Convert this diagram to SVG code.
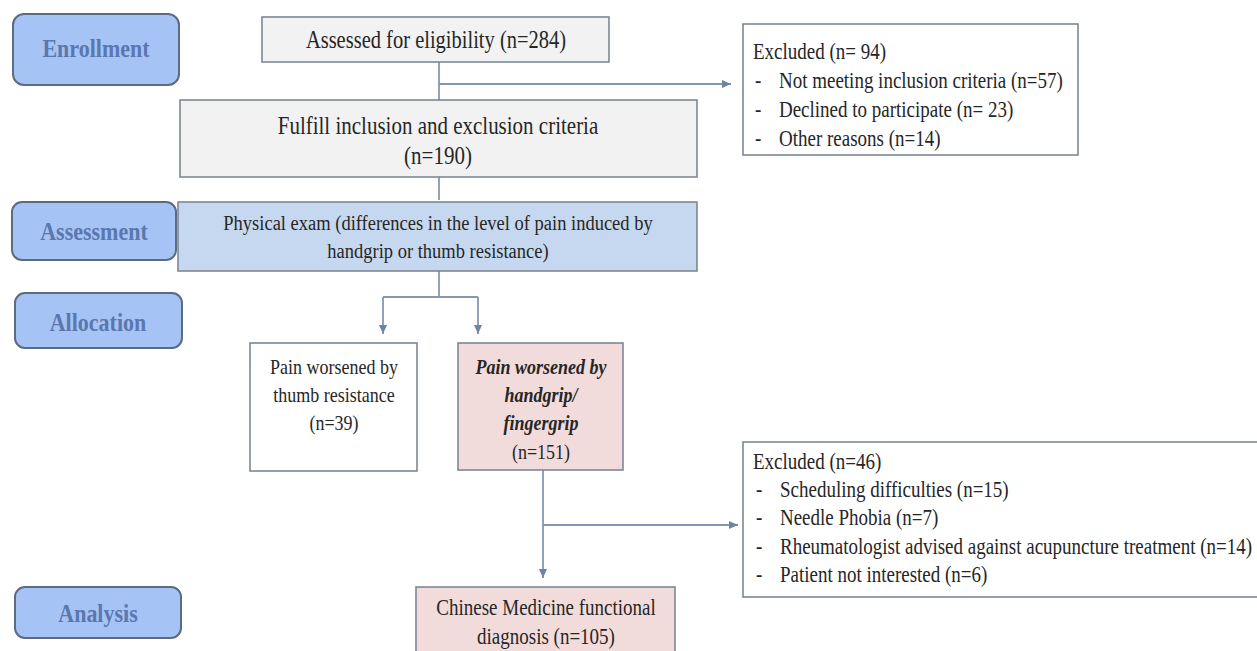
<svg xmlns="http://www.w3.org/2000/svg" width="1257" height="651" viewBox="0 0 1257 651">
<style>
.lbl rect{fill:#a6c3f6;stroke:#5d6b80;stroke-width:2}
.lbl text{font-family:"Liberation Serif",serif;font-weight:bold;font-size:22px;fill:#5a77ae;text-anchor:middle}
.box{stroke:#7d8794;stroke-width:1.6}
.t{font-family:"Liberation Serif",serif;font-size:19px;fill:#262626}
.t,.lbl text{transform-box:fill-box;transform-origin:50% 50%;transform:scaleY(1.18)}
.c{text-anchor:middle}
.conn line{stroke:#8597b0;stroke-width:1.8;fill:none}
</style>
<defs>
<marker id="ah" markerUnits="userSpaceOnUse" markerWidth="10" markerHeight="10" viewBox="0 0 10 10" refX="9" refY="5" orient="auto">
<path d="M0,1 L9,5 L0,9 Z" fill="#6f84a3"/>
</marker>
</defs>
<rect width="1257" height="651" fill="#ffffff"/>
<g class="conn" id="connectors">
<line x1="439" y1="62" x2="439" y2="200"/>
<line x1="439" y1="84" x2="731" y2="84" marker-end="url(#ah)"/>
<line x1="439" y1="271" x2="439" y2="297"/>
<line x1="383" y1="297" x2="478" y2="297"/>
<line x1="383" y1="297" x2="383" y2="334" marker-end="url(#ah)"/>
<line x1="478" y1="297" x2="478" y2="334" marker-end="url(#ah)"/>
<line x1="543" y1="470" x2="543" y2="578" marker-end="url(#ah)"/>
<line x1="543" y1="525" x2="738" y2="525" marker-end="url(#ah)"/>
</g>
<g id="enrollment" class="lbl"><rect x="13" y="14" width="166" height="71" rx="11"/><text x="96" y="56">Enrollment</text></g>
<g id="assessment" class="lbl"><rect x="12" y="202" width="164" height="58" rx="10"/><text x="94" y="239">Assessment</text></g>
<g id="allocation" class="lbl"><rect x="15" y="293" width="167" height="55" rx="10"/><text x="98" y="330">Allocation</text></g>
<g id="analysis" class="lbl"><rect x="15" y="587" width="166" height="51" rx="10"/><text x="98" y="621">Analysis</text></g>
<g id="assessed"><rect class="box" x="262" y="17" width="347" height="45" fill="#f2f2f2"/><text class="t c" x="436" y="47" style="font-size:20.5px">Assessed for eligibility (n=284)</text></g>
<g id="fulfill"><rect class="box" x="180" y="100" width="517" height="77" fill="#f2f2f2"/><text class="t c" x="438" y="133" style="font-size:21px">Fulfill inclusion and exclusion criteria</text><text class="t c" x="438" y="163" style="font-size:21px">(n=190)</text></g>
<g id="excluded1"><rect class="box" x="743" y="24" width="335" height="131" fill="#ffffff"/>
<text class="t" x="753" y="58">Excluded  (n= 94)</text>
<text class="t" x="755" y="87">-</text><text class="t" x="779" y="87">Not meeting inclusion criteria (n=57)</text>
<text class="t" x="755" y="116">-</text><text class="t" x="779" y="116">Declined to participate (n= 23)</text>
<text class="t" x="755" y="145">-</text><text class="t" x="779" y="145">Other reasons (n=14)</text></g>
<g id="physical"><rect class="box" x="178" y="202" width="519" height="69" fill="#c6d8ef"/><text class="t c" x="438" y="229" style="font-size:18.5px">Physical exam (differences in the level of pain induced by</text><text class="t c" x="438" y="257" style="font-size:18.5px">handgrip or thumb resistance)</text></g>
<g id="thumb"><rect class="box" x="250" y="343" width="167" height="128" fill="#ffffff"/>
<text class="t c" x="334" y="373" style="font-size:18px">Pain worsened by</text>
<text class="t c" x="334" y="401" style="font-size:18px">thumb resistance</text>
<text class="t c" x="334" y="429" style="font-size:18px">(n=39)</text></g>
<g id="handgrip"><rect class="box" x="458" y="343" width="165" height="127" fill="#f2dcdb"/>
<text class="t c" x="541" y="373" style="font-size:18px;font-weight:bold;font-style:italic">Pain worsened by</text>
<text class="t c" x="541" y="401" style="font-size:18px;font-weight:bold;font-style:italic">handgrip/</text>
<text class="t c" x="541" y="429" style="font-size:18px;font-weight:bold;font-style:italic">fingergrip</text>
<text class="t c" x="541" y="458" style="font-size:18px">(n=151)</text></g>
<g id="excluded2"><rect class="box" x="743" y="442" width="530" height="155" fill="#ffffff"/>
<text class="t" x="753" y="468">Excluded (n=46)</text>
<text class="t" x="756" y="496">-</text><text class="t" x="780" y="496">Scheduling difficulties (n=15)</text>
<text class="t" x="756" y="524">-</text><text class="t" x="780" y="524">Needle Phobia (n=7)</text>
<text class="t" x="756" y="553">-</text><text class="t" x="780" y="553">Rheumatologist advised against acupuncture treatment (n=14)</text>
<text class="t" x="756" y="581">-</text><text class="t" x="780" y="581">Patient not interested (n=6)</text></g>
<g id="chinese"><rect class="box" x="416" y="587" width="259" height="80" fill="#f2dcdb"/>
<text class="t c" x="546" y="614" style="font-size:19px">Chinese Medicine functional</text>
<text class="t c" x="546" y="643" style="font-size:19px">diagnosis (n=105)</text></g>
</svg>
